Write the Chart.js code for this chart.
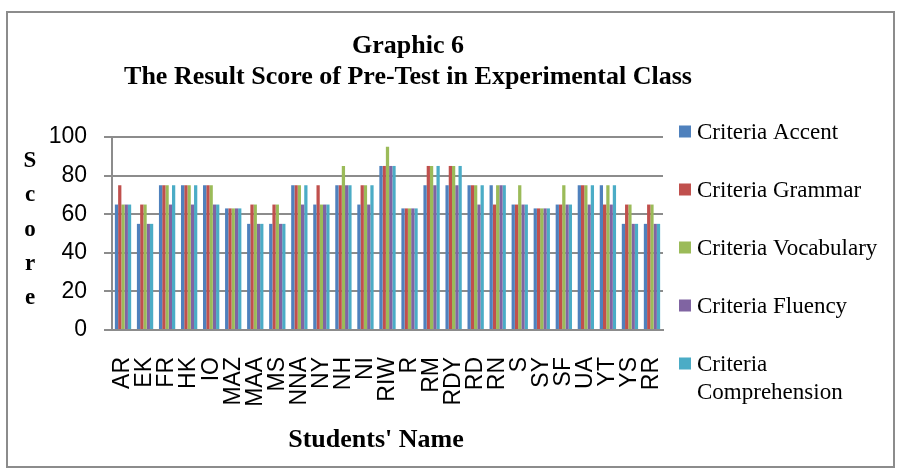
<!DOCTYPE html>
<html><head><meta charset="utf-8">
<script src="https://cdn.jsdelivr.net/npm/chart.js@4.4.0/dist/chart.umd.min.js"></script>
<style>html,body{margin:0;padding:0;background:#fff}canvas{display:block}</style>
</head><body>
<canvas id="c" width="902" height="475"></canvas>
<script>
const chartTitle = ['Graphic 6', 'The Result Score of Pre-Test in Experimental Class'];
const xAxisTitle = "Students' Name";
const yAxisTitle = 'Score';
const students = ['AR','EK','FR','HK','IO','MAZ','MAA','MS','NNA','NY','NH','NI','RIW','R','RM','RDY','RD','RN','S','SY','SF','UA','YT','YS','RR'];
const accent =        [65,55,75,75,75,63,55,55,75,65,75,65,85,63,75,75,75,75,65,63,65,75,75,55,55];
const grammar =       [75,65,75,75,75,63,65,65,75,75,75,75,85,63,85,85,75,65,65,63,65,75,65,65,65];
const vocabulary =    [65,65,75,75,75,63,65,65,75,65,85,75,95,63,85,85,75,75,75,63,75,75,75,65,65];
const fluency =       [65,55,65,65,65,63,55,55,65,65,75,65,85,63,75,75,65,75,65,63,65,65,65,55,55];
const comprehension = [65,55,75,75,65,63,55,55,75,65,75,75,85,63,85,85,75,75,65,63,65,75,75,55,55];
const seriesNames = ['Criteria Accent','Criteria Grammar','Criteria Vocabulary','Criteria Fluency','Criteria Comprehension'];
const yMin = 0, yMax = 100, yStep = 20;

const colors = ['#4F81BD','#C0504D','#9BBB59','#8064A2','#4BACC6'];
const seriesData = [accent, grammar, vocabulary, fluency, comprehension];

const SERIF = '"Liberation Serif", "Times New Roman", serif';
const NARROW = '"Liberation Sans Narrow", "Liberation Sans", Arial, sans-serif';

const decor = {
  id: 'decor',
  beforeDraw(chart) {
    const ctx = chart.ctx;
    ctx.save();
    ctx.fillStyle = '#fff';
    ctx.fillRect(0, 0, chart.width, chart.height);
    ctx.strokeStyle = '#8c8c8c';
    ctx.lineWidth = 2;
    ctx.strokeRect(7, 12, 887, 455);
    ctx.restore();
  },
  afterDraw(chart) {
    const ctx = chart.ctx;
    ctx.save();
    ctx.fillStyle = '#000';
    ctx.textAlign = 'center';
    ctx.textBaseline = 'middle';
    // title
    ctx.font = 'bold 26px ' + SERIF;
    ctx.fillText(chartTitle[0], 408, 46);
    ctx.fillText(chartTitle[1], 408, 77);
    // x axis title
    ctx.fillText(xAxisTitle, 376, 440);
    // y axis title stacked
    ctx.font = 'bold 23px ' + SERIF;
    for (let i = 0; i < yAxisTitle.length; i++) {
      ctx.fillText(yAxisTitle[i], 30, 161 + i * 34.3);
    }
    // legend
    ctx.textAlign = 'left';
    ctx.font = '23px ' + SERIF;
    chart.data.datasets.forEach((ds, i) => {
      const cy = 131.5 + i * 58;
      ctx.fillStyle = ds.backgroundColor;
      ctx.fillRect(679, cy - 6, 12, 12);
      ctx.fillStyle = '#000';
      const words = ds.label.split(' ');
      const full = ds.label;
      if (ctx.measureText(full).width > 200) {
        ctx.fillText(words[0], 697, cy + 1);
        ctx.fillText(words.slice(1).join(' '), 697, cy + 29);
      } else {
        ctx.fillText(full, 697, cy + 1);
      }
    });
    ctx.restore();
  }
};

new Chart(document.getElementById('c'), {
  type: 'bar',
  data: {
    labels: students,
    datasets: seriesNames.map((n, i) => ({
      label: n,
      data: seriesData[i],
      backgroundColor: colors[i],
      borderWidth: 0,
      barPercentage: 1.0,
      categoryPercentage: 0.74
    }))
  },
  options: {
    responsive: false,
    animation: false,
    devicePixelRatio: 1,
    layout: { padding: { left: 0, right: 239, top: 137, bottom: 0 } },
    plugins: { legend: { display: false }, title: { display: false }, tooltip: { enabled: false } },
    scales: {
      x: {
        grid: { display: false, drawTicks: false },
        border: { display: true, color: '#8c8c8c', width: 2 },
        ticks: {
          autoSkip: false, maxRotation: 90, minRotation: 90, padding: 27,
          color: '#000', font: { family: NARROW, size: 23 }
        },
        afterFit(scale) { scale.height = 145; }
      },
      y: {
        min: yMin, max: yMax,
        grid: { color: '#8c8c8c', lineWidth: 2, tickLength: 8, drawTicks: true },
        border: { display: true, color: '#8c8c8c', width: 2 },
        ticks: {
          stepSize: yStep, padding: 17, color: '#000',
          font: { family: NARROW, size: 23 }
        },
        afterFit(scale) { scale.width = 112; }
      }
    }
  },
  plugins: [decor]
});
</script>
</body></html>
